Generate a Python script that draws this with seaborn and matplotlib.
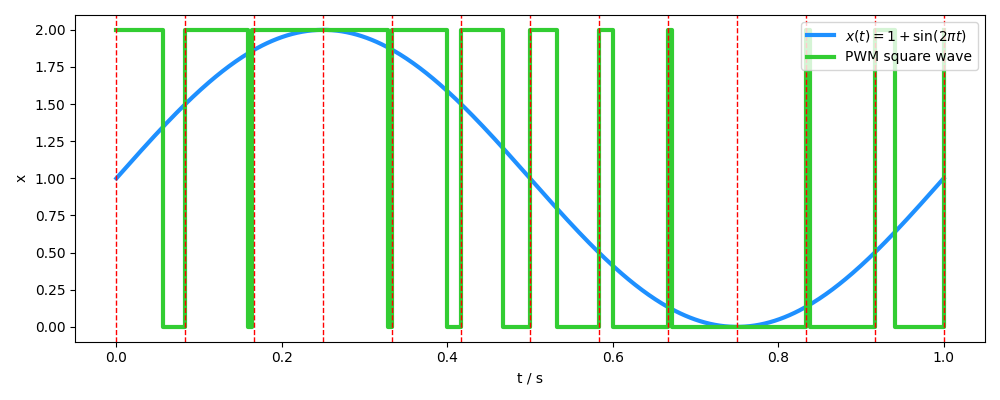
import numpy as np
import pandas as pd
import matplotlib
matplotlib.use('Agg')
import matplotlib.pyplot as plt
import seaborn as sns

# 采样时刻 (每周期 1/12 s)
sample_times = [k / 12 for k in range(13)]

# PWM 方波的跳变时刻与跳变后的电平
pwm_times = [0.0, 0.056, 0.0833, 0.159, 0.164, 0.328, 0.3333, 0.400, 0.4167,
             0.467, 0.500, 0.533, 0.5833, 0.600, 0.6667, 0.672, 0.8333, 0.839,
             0.9167, 0.9416, 1.0, 1.0]
pwm_levels = [2, 0, 2, 0, 2, 0, 2, 0, 2, 0, 2, 0, 2, 0, 2, 0, 2, 0, 2, 0, 2, 2]

# 调制信号 x(t) = 1 + sin(2πt)
t = np.linspace(0, 1, 500)
x = 1 + np.sin(2 * np.pi * t)

fig, ax = plt.subplots(figsize=(10, 4), dpi=100)
sns.lineplot(x=t, y=x, ax=ax, color='dodgerblue', linewidth=3,
             label=r'$x(t) = 1 + \sin(2\pi t)$')
pwm = pd.DataFrame({'t': pwm_times, 'level': pwm_levels})
ax.step(pwm['t'], pwm['level'], where='post', color='limegreen', linewidth=3,
        label='PWM square wave')
for ts in sample_times:
    ax.axvline(ts, color='red', linestyle='--', linewidth=1)

ax.set_xlabel('t / s')
ax.set_ylabel('x')
ax.set_yticks(np.arange(0, 2.01, 0.25))
ax.legend(loc='upper right')
fig.tight_layout()
fig.savefig('out.png')
